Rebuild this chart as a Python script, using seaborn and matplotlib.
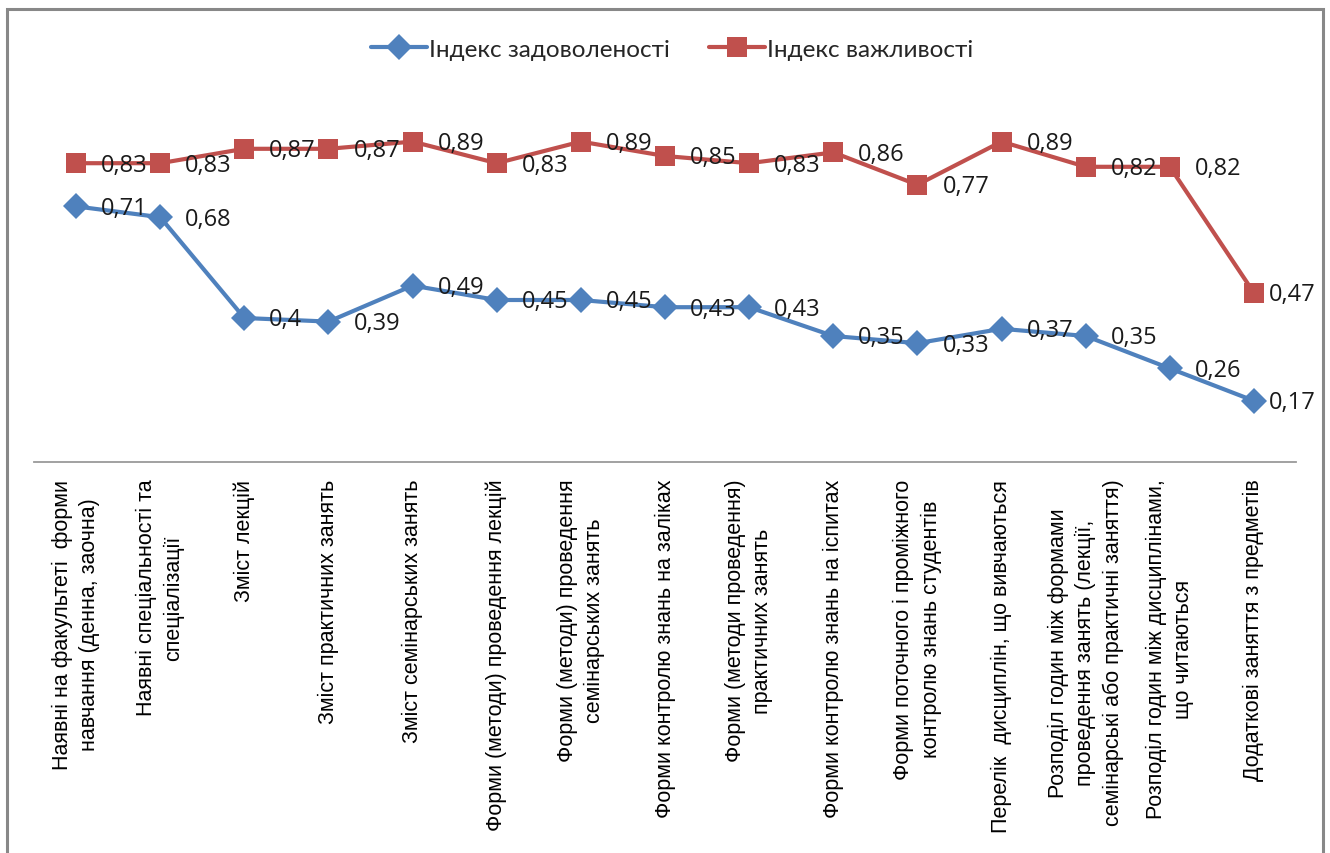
import matplotlib
matplotlib.use("Agg")
import matplotlib.pyplot as plt
import seaborn as sns
import pandas as pd
from matplotlib.patches import Rectangle
from matplotlib.lines import Line2D

categories = [
    "Наявні на факультеті  форми\nнавчання (денна, заочна)",
    "Наявні спеціальності та\nспеціалізації",
    "Зміст лекцій",
    "Зміст практичних занять",
    "Зміст семінарських занять",
    "Форми (методи) проведення лекцій",
    "Форми (методи) проведення\nсемінарських занять",
    "Форми контролю знань на заліках",
    "Форми (методи проведення)\nпрактичних занять",
    "Форми контролю знань на іспитах",
    "Форми поточного і проміжного\nконтролю знань студентів",
    "Перелік  дисциплін, що вивчаються",
    "Розподіл годин між формами\nпроведення занять (лекції,\nсемінарські або практичні заняття)",
    "Розподіл годин між дисциплінами,\nщо читаються",
    "Додаткові заняття з предметів",
]
satisfaction = [0.71, 0.68, 0.40, 0.39, 0.49, 0.45, 0.45, 0.43, 0.43, 0.35, 0.33, 0.37, 0.35, 0.26, 0.17]
importance = [0.83, 0.83, 0.87, 0.87, 0.89, 0.83, 0.89, 0.85, 0.83, 0.86, 0.77, 0.89, 0.82, 0.82, 0.47]
series_names = ["Індекс задоволеності", "Індекс важливості"]
colors = ["#4F81BD", "#C0504D"]

sns.set_theme(style="white")
plt.rcParams["font.family"] = ["Lato", "DejaVu Sans"]

rows = []
for name, vals in zip(series_names, [satisfaction, importance]):
    for i, v in enumerate(vals):
        rows.append({"pos": i, "value": v, "series": name})
df = pd.DataFrame(rows)

fig = plt.figure(figsize=(13.3, 8.54), dpi=100)
ax = fig.add_axes([34 / 1330, 1 - 463 / 854, (1296 - 34) / 1330, (463 - 103) / 854])

marker_sizes = [13, 14.5]
sns.lineplot(
    data=df, x="pos", y="value", hue="series", style="series",
    hue_order=series_names, style_order=series_names,
    palette=dict(zip(series_names, colors)),
    markers={series_names[0]: "D", series_names[1]: "s"},
    dashes=False, linewidth=3, markeredgewidth=0,
    ax=ax, legend=False,
)
for line, ms in zip(ax.lines, marker_sizes):
    line.set_markersize(ms)

n = len(categories)
for vals in [satisfaction, importance]:
    for i, v in enumerate(vals):
        dx = 11 if i == n - 1 else 18
        ax.annotate(f"{v:g}".replace(".", ","), (i, v), xytext=(dx, -1),
                    textcoords="offset points", ha="left", va="center",
                    fontsize=17, color="#1a1a1a", family=["Open Sans", "DejaVu Sans"])

ax.set_xlim(-0.5, n - 0.5)
ax.set_ylim(0, 1)
ax.set_xticks(range(n))
ax.set_xticklabels(categories, rotation=90, fontsize=15.5, family=["Liberation Sans", "DejaVu Sans"],
                   linespacing=1.4, multialignment="center")
ax.tick_params(axis="x", length=0, pad=12, colors="black")
ax.set_yticks([])
ax.set_xlabel("")
ax.set_ylabel("")
for s in ["top", "left", "right"]:
    ax.spines[s].set_visible(False)
ax.spines["bottom"].set_color("#9a9a9a")
ax.spines["bottom"].set_linewidth(1.3)
ax.patch.set_alpha(0)

handles = [Line2D([], [], color=c, marker=m, linewidth=3, markersize=ms, markeredgewidth=0)
           for c, m, ms in zip(colors, ["D", "s"], marker_sizes)]
fig.legend(handles, series_names, loc="center", bbox_to_anchor=(672 / 1330, 1 - 50 / 854),
           ncol=2, frameon=False, fontsize=17.5, handlelength=2.3, handletextpad=0.1,
           columnspacing=1.6)

fig.patches.append(Rectangle((7 / 1330, -0.05), (1323 - 7) / 1330, 1.05 - 10 / 854,
                             transform=fig.transFigure, fill=False,
                             edgecolor="#888888", linewidth=2.2))

fig.savefig("out.png", dpi=100)
